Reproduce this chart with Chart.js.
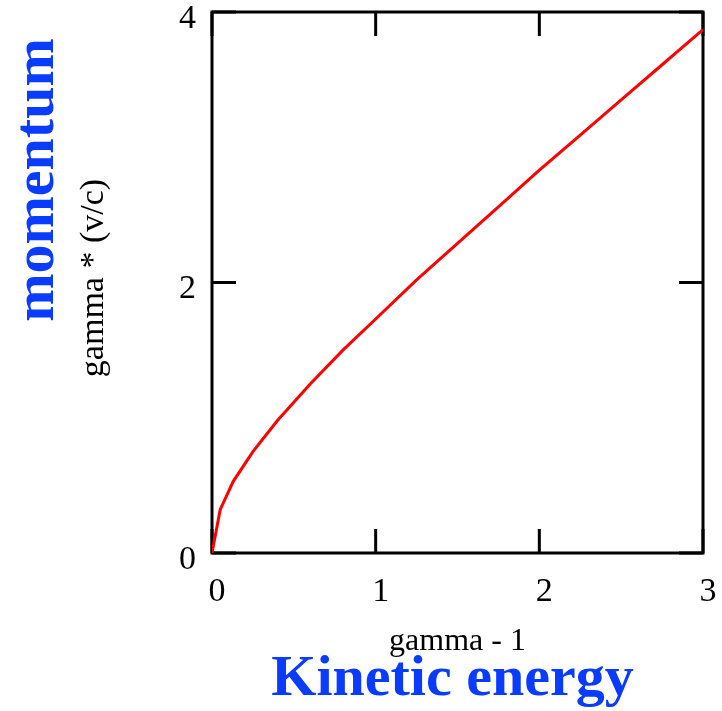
<!DOCTYPE html>
<html>
<head>
<meta charset="utf-8">
<script src="https://cdn.jsdelivr.net/npm/chart.js@4/dist/chart.umd.min.js"></script>
<style>
    html, body { margin: 0; padding: 0; background: #ffffff; }
    #wrap { position: relative; width: 722px; height: 711px; }
</style>
</head>
<body>
<div id="wrap"><canvas id="momentumChart" width="722" height="711"></canvas></div>
<script>
// Values
const kineticEnergy = [0, 0.05, 0.13, 0.25, 0.4, 0.6, 0.8, 1.0, 1.25, 1.5, 1.75, 2.0, 2.25, 2.5, 2.75, 3.0];
const momentum      = [0, 0.32, 0.53, 0.75, 0.98, 1.25, 1.5, 1.73, 2.02, 2.29, 2.56, 2.83, 3.09, 3.35, 3.61, 3.87];
const xTickValues = [0, 1, 2, 3];
const yTickValues = [0, 2, 4];
const xTitle = 'gamma - 1';
const xHeading = 'Kinetic energy';
const yTitle = 'gamma * (v/c)';
const yHeading = 'momentum';

const SERIF = '"Liberation Serif", "DejaVu Serif", serif';
const BLUE = '#0a3cff';
const TICK_LEN = 24;

// Frame, inward ticks on all four sides, and the axis captions
const framePlugin = {
    id: 'frame',
    beforeDatasetsDraw(chart) {
        const { ctx, chartArea: a, scales } = chart;
        ctx.save();
        ctx.strokeStyle = '#000000';
        ctx.lineWidth = 3;
        ctx.strokeRect(a.left, a.top, a.right - a.left, a.bottom - a.top);
        ctx.beginPath();
        xTickValues.forEach(v => {
            const px = scales.x.getPixelForValue(v);
            ctx.moveTo(px, a.bottom); ctx.lineTo(px, a.bottom - TICK_LEN);
            ctx.moveTo(px, a.top);    ctx.lineTo(px, a.top + TICK_LEN);
        });
        yTickValues.forEach(v => {
            const py = scales.y.getPixelForValue(v);
            ctx.moveTo(a.left, py);  ctx.lineTo(a.left + TICK_LEN, py);
            ctx.moveTo(a.right, py); ctx.lineTo(a.right - TICK_LEN, py);
        });
        ctx.stroke();
        ctx.restore();
    },
    afterDraw(chart) {
        const { ctx, chartArea: a } = chart;
        const midX = (a.left + a.right) / 2;
        ctx.save();
        ctx.textAlign = 'center';
        ctx.textBaseline = 'alphabetic';

        ctx.fillStyle = '#000000';
        ctx.font = '32px ' + SERIF;
        ctx.fillText(xTitle, midX, a.bottom + 97);

        ctx.fillStyle = BLUE;
        ctx.font = 'bold 58px ' + SERIF;
        ctx.fillText(xHeading, midX - 5, a.bottom + 142);

        // rotated captions on the left
        ctx.save();
        ctx.translate(53, 180);
        ctx.rotate(-Math.PI / 2);
        ctx.fillStyle = BLUE;
        ctx.font = 'bold 58px ' + SERIF;
        ctx.fillText(yHeading, 0, 0);
        ctx.restore();

        ctx.save();
        ctx.translate(103, 278);
        ctx.rotate(-Math.PI / 2);
        ctx.fillStyle = '#000000';
        ctx.font = '34px ' + SERIF;
        ctx.fillText(yTitle, 0, 0);
        ctx.restore();

        ctx.restore();
    }
};

const ctx = document.getElementById('momentumChart').getContext('2d');
const chart = new Chart(ctx, {
    type: 'line',
    data: {
        datasets: [{
            data: kineticEnergy.map((x, i) => ({ x: x, y: momentum[i] })),
            borderColor: '#ff0000',
            borderWidth: 3,
            pointRadius: 0,
            tension: 0,
            fill: false
        }]
    },
    options: {
        responsive: false,
        animation: false,
        events: [],
        layout: { padding: { top: 12, right: 19, left: 0, bottom: 0 } },
        plugins: {
            legend: { display: false },
            tooltip: { enabled: false }
        },
        scales: {
            x: {
                type: 'linear',
                min: 0,
                max: 3,
                afterFit: s => { s.height = 158; s.paddingLeft = 0; s.paddingRight = 0; },
                afterBuildTicks: s => { s.ticks = xTickValues.map(v => ({ value: v })); },
                grid: { display: false, drawTicks: false },
                border: { display: false },
                ticks: {
                    color: '#000000',
                    font: { family: SERIF, size: 34 },
                    padding: 19,
                    labelOffset: 5,
                    maxRotation: 0
                }
            },
            y: {
                type: 'linear',
                min: 0,
                max: 4,
                afterFit: s => { s.width = 212; s.paddingTop = 0; s.paddingBottom = 0; },
                afterBuildTicks: s => { s.ticks = yTickValues.map(v => ({ value: v })); },
                grid: { display: false, drawTicks: false },
                border: { display: false },
                ticks: {
                    color: '#000000',
                    font: { family: SERIF, size: 34 },
                    padding: 16,
                    labelOffset: 7
                }
            }
        }
    },
    plugins: [framePlugin]
});
</script>
</body>
</html>
